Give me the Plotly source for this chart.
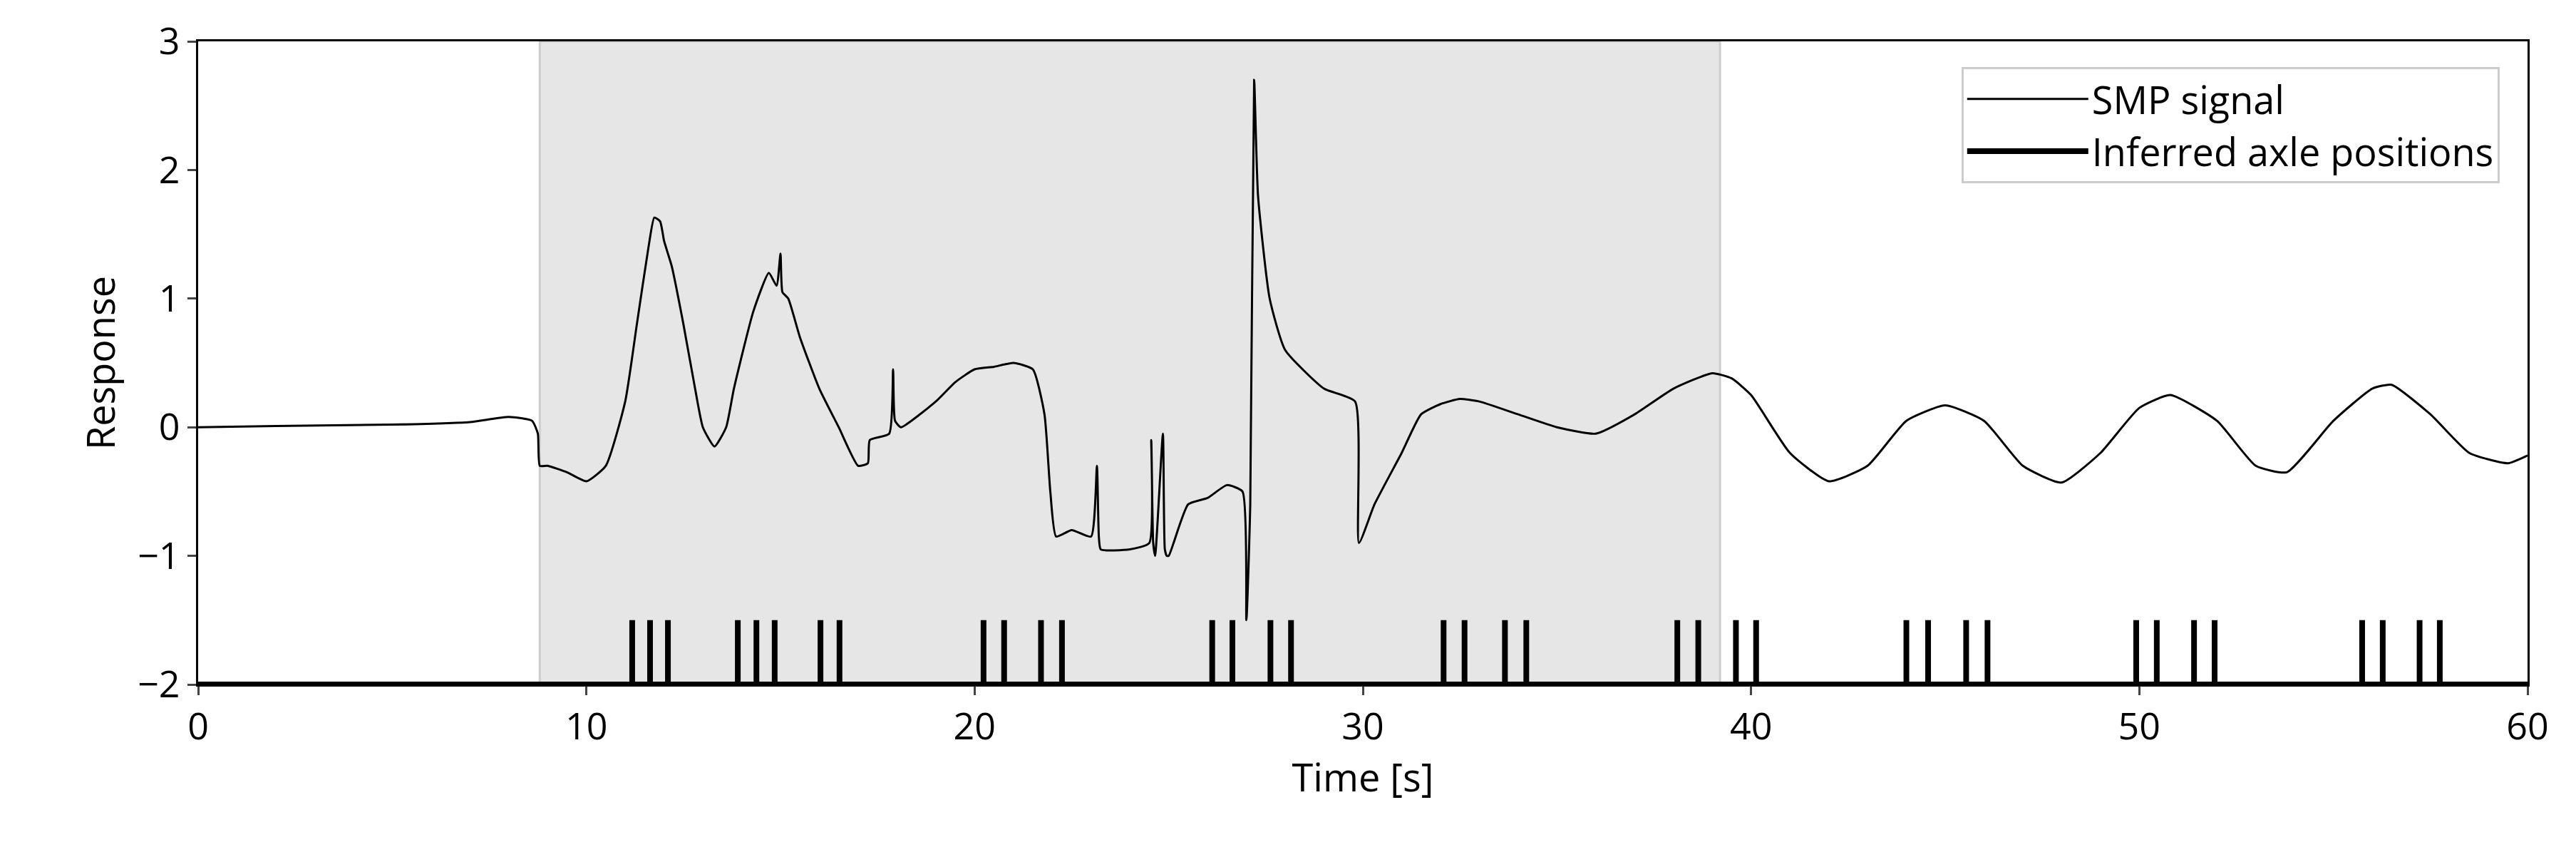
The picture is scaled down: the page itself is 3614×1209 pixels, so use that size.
import plotly.graph_objects as go

sig_t = [0, 2, 5, 7, 8, 8.6, 8.75, 8.8, 9.0, 9.5, 10, 10.5, 11, 11.3, 11.6, 11.75, 11.9, 12.0, 12.1, 12.2, 12.5, 12.8, 13.0, 13.3, 13.6, 13.8, 14.3, 14.7, 14.9, 15.0, 15.05, 15.2, 15.5, 16.0, 16.5, 17.0, 17.25, 17.3, 17.8, 17.9, 17.95, 18.1, 19.0, 19.5, 20.0, 20.5, 21.0, 21.5, 21.8, 21.95, 22.1, 22.5, 23.0, 23.15, 23.2, 23.25, 24.0, 24.5, 24.55, 24.6, 24.65, 24.85, 24.9, 24.95, 25.0, 25.5, 26.0, 26.5, 26.9, 27.0, 27.1, 27.2, 27.3, 27.6, 28.0, 29.0, 29.8, 29.9, 30.3, 31.0, 31.5, 32.0, 32.5, 33.0, 34.0, 35.0, 36.0, 37.0, 38.0, 39.0, 39.5, 40, 41, 42, 43, 44, 45, 46, 47, 48, 49, 50, 50.8, 52, 53, 53.8, 55, 56, 56.5, 57.5, 58.5, 59.5, 60]
sig_y = [0.0, 0.01, 0.02, 0.04, 0.08, 0.05, -0.05, -0.3, -0.3, -0.35, -0.42, -0.3, 0.2, 0.8, 1.4, 1.63, 1.6, 1.45, 1.35, 1.25, 0.8, 0.3, 0.0, -0.15, 0.0, 0.3, 0.9, 1.2, 1.1, 1.35, 1.05, 1.0, 0.7, 0.3, 0.0, -0.3, -0.28, -0.1, -0.05, 0.45, 0.05, 0.0, 0.2, 0.35, 0.45, 0.47, 0.5, 0.45, 0.1, -0.5, -0.85, -0.8, -0.85, -0.3, -0.85, -0.95, -0.95, -0.9, -0.1, -0.9, -1.0, -0.05, -0.95, -1.0, -1.0, -0.6, -0.55, -0.45, -0.5, -1.5, -0.6, 2.7, 1.8, 1.0, 0.6, 0.3, 0.2, -0.9, -0.6, -0.2, 0.1, 0.18, 0.22, 0.2, 0.1, 0.0, -0.05, 0.1, 0.3, 0.42, 0.38, 0.25, -0.2, -0.42, -0.3, 0.05, 0.17, 0.05, -0.3, -0.43, -0.2, 0.15, 0.25, 0.05, -0.3, -0.35, 0.05, 0.3, 0.33, 0.1, -0.2, -0.28, -0.22]

axle_t = [11.18, 11.64, 12.10, 13.90, 14.38, 14.85, 16.03, 16.52, 20.23, 20.76, 21.71, 22.25,
          26.12, 26.64, 27.62, 28.15, 32.08, 32.62, 33.66, 34.21, 38.10, 38.64, 39.61, 40.13,
          44.00, 44.56, 45.54, 46.09, 49.92, 50.45, 51.41, 51.94, 55.74, 56.27, 57.22, 57.74]
axle_base = -2.0
axle_top = -1.5
shade_start, shade_end = 8.8, 39.2

ax_x, ax_y = [], []
for t in axle_t:
    ax_x += [t, t, None]
    ax_y += [axle_base, axle_top, None]

fig = go.Figure()
fig.add_vrect(x0=shade_start, x1=shade_end, fillcolor="#e6e6e6", line=dict(color="#cccccc", width=3), layer="below")
fig.add_trace(go.Scatter(x=sig_t, y=sig_y, mode="lines", line=dict(color="black", width=3, shape="spline", smoothing=0.5), name="SMP signal"))
fig.add_trace(go.Scatter(x=ax_x, y=ax_y, mode="lines", line=dict(color="black", width=8), name="Inferred axle positions"))
fig.add_shape(type="line", xref="x", yref="y", x0=0, x1=60, y0=axle_base, y1=axle_base, line=dict(color="black", width=8))

font = "Open Sans, Liberation Sans, sans-serif"
fig.update_layout(
    width=3614, height=1209, plot_bgcolor="white", paper_bgcolor="white",
    margin=dict(l=270, r=76, t=46, b=257),
    font=dict(family=font, size=52, color="black"),
    legend=dict(x=0.988, y=0.96, xanchor="right", yanchor="top", bordercolor="#cccccc", borderwidth=3,
                bgcolor="rgba(255,255,255,0.85)", font=dict(size=54), itemwidth=170, tracegroupgap=20),
    showlegend=True,
)
fig.update_xaxes(range=[0, 60], tickvals=[0, 10, 20, 30, 40, 50, 60], showgrid=False, zeroline=False,
                 showline=True, linecolor="black", linewidth=3, mirror=True, ticks="outside", ticklen=12, tickwidth=3,
                 title=dict(text="Time [s]", font=dict(size=54)))
fig.update_yaxes(range=[-2, 3], tickvals=[-2, -1, 0, 1, 2, 3], showgrid=False, zeroline=False,
                 showline=True, linecolor="black", linewidth=3, mirror=True, ticks="outside", ticklen=12, tickwidth=3,
                 title=dict(text="Response", font=dict(size=54)))
fig.write_html("out.html")
